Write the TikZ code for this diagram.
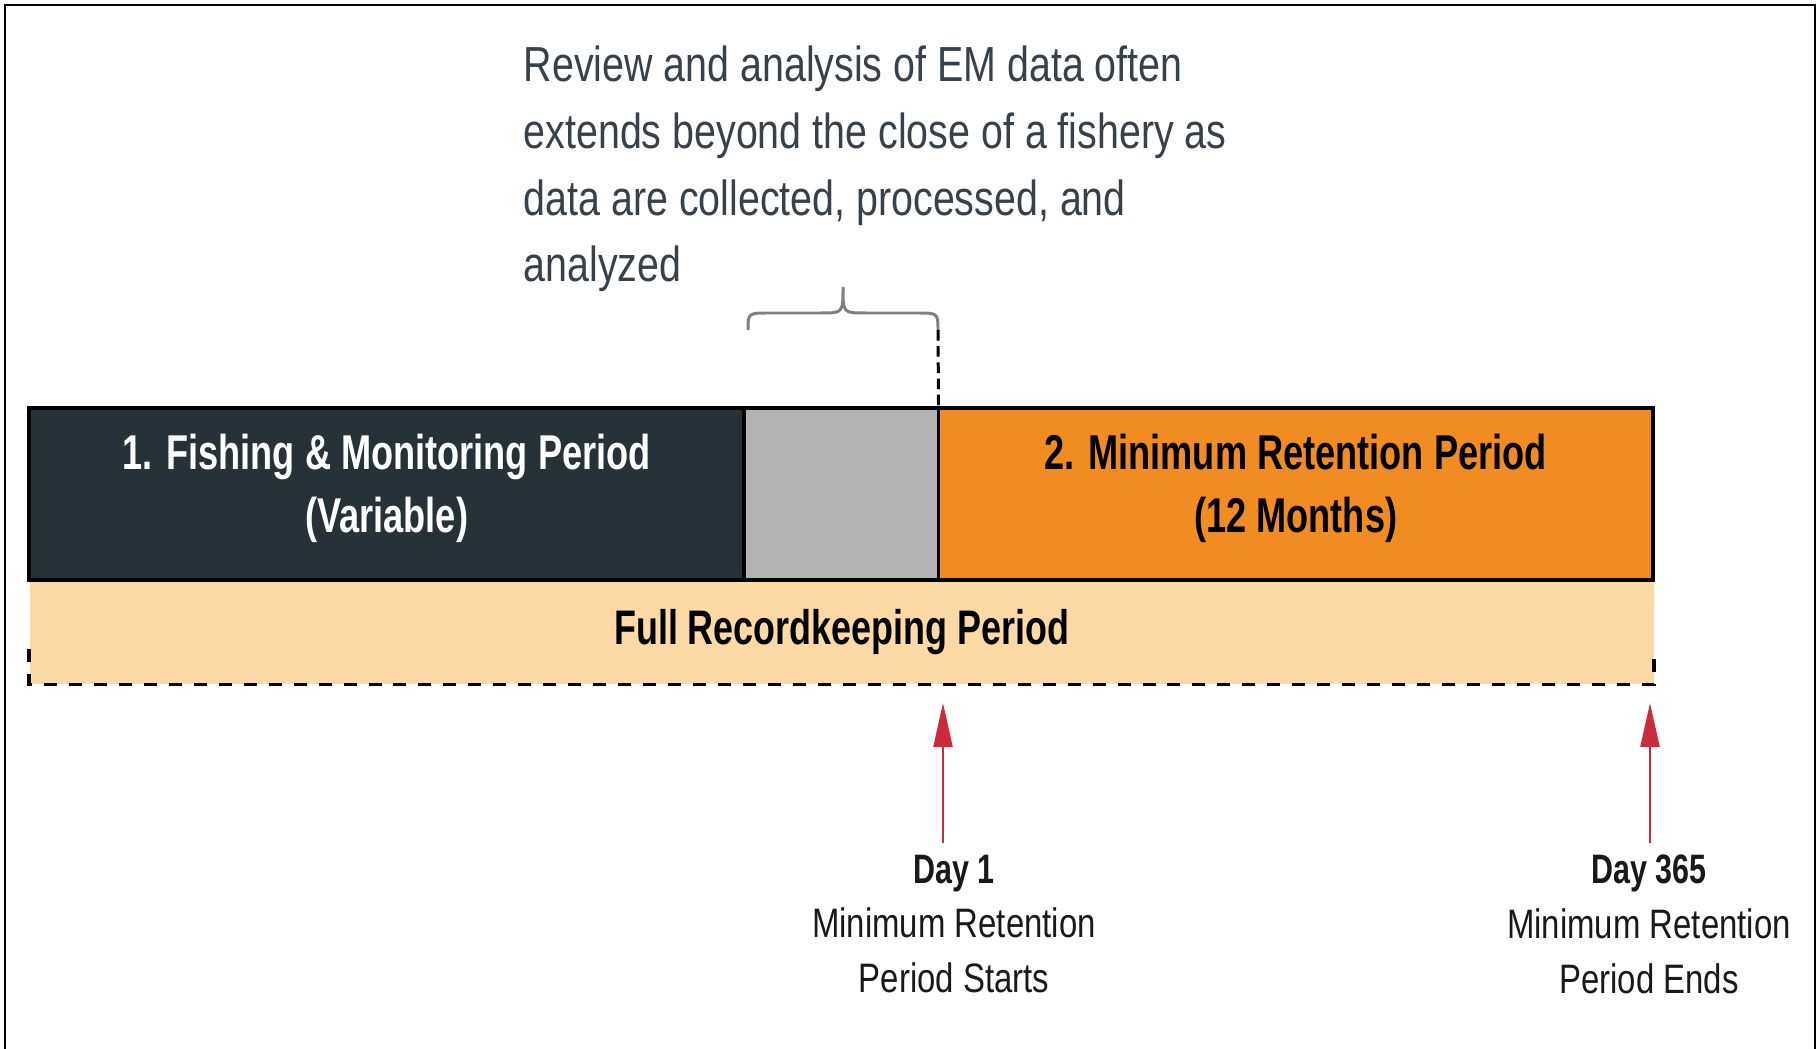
\documentclass[tikz,border=0pt]{standalone}
\usepackage{fontspec}
\setmainfont{Liberation Sans}[FakeStretch=0.8,BoldFeatures={FakeStretch=0.74}]
\usetikzlibrary{arrows.meta,positioning}
\definecolor{slate}{HTML}{263238}
\definecolor{pending}{HTML}{B3B3B3}
\definecolor{retain}{HTML}{F08C22}
\definecolor{peach}{HTML}{FDD9A6}
\definecolor{marker}{HTML}{CC2A3D}
\definecolor{note}{HTML}{37414A}
\definecolor{bracegray}{HTML}{808080}

\begin{document}
\begin{tikzpicture}[x=0.01cm,y=-0.01cm,
  period/.style={draw=black,line width=1.1pt,inner sep=0,outer sep=0,minimum height=1.72cm,
    align=center,font=\fontsize{13.9}{18}\selectfont\bfseries},
  rim/.style={line width=1.1pt,dash pattern=on 3.7pt off 3.4pt},
  flag/.style={draw=marker,line width=0.7pt,-{Triangle[length=12.5pt,width=5.4pt]}},
  daylabel/.style={anchor=north,inner sep=0,align=center,text=black!90,
    font=\fontsize{11.7}{15.6}\selectfont}]
\useasboundingbox (0,0) rectangle (1820,1049);
\draw[line width=0.7pt] (5,1049) -- (5,5) -- (1815,5) -- (1815,1049);
\node[fill=peach,inner sep=0,minimum width=16.23cm,minimum height=1.03cm,anchor=north west,
  font=\fontsize{13.8}{16}\selectfont\bfseries] (record) at (29,580) {Full Recordkeeping Period};
\draw[rim] ([yshift=0.35cm]record.south west) -- (record.south west)
  -- (record.south east) -- ([yshift=0.35cm]record.south east);
\node[period,fill=slate,text=white,minimum width=7.15cm,anchor=north west] (fishing) at (29,408)
  {1. Fishing \& Monitoring Period\\(Variable)\rule[-6pt]{0pt}{0pt}};
\node[period,fill=pending,minimum width=1.94cm,anchor=west] (review) at (fishing.east) {};
\node[period,fill=retain,text=black,minimum width=7.14cm,anchor=west] (retention) at (review.east)
  {2. Minimum Retention Period\\(12 Months)\rule[-6pt]{0pt}{0pt}};
\node[anchor=north west,inner sep=0,align=left,text=note,font=\fontsize{14}{19}\selectfont] (remark) at (523,45)
  {Review and analysis of EM data often\\extends beyond the close of a fishery as\\data are collected, processed, and\\analyzed};
\coordinate (braceR) at (938,330);
\draw[bracegray,line width=0.85pt] (748,330) .. controls (748,313) .. (770,313) -- (821,313)
  .. controls (843,313) .. (843,287) .. controls (843,313) .. (865,313) -- (916,313)
  .. controls (938,313) .. (braceR);
\draw[line width=0.85pt,dash pattern=on 3pt off 1.6pt] (braceR) -- (review.north east);
\node[daylabel] (start) at (954,854) {\textbf{Day 1}\\Minimum Retention\\Period Starts};
\node[daylabel] (finish) at (1649,854) {\textbf{Day 365}\\Minimum Retention\\Period Ends};
\coordinate (startfoot) at (943,843);
\coordinate (starttip) at (943,703);
\coordinate (finishfoot) at (1650,843);
\coordinate (finishtip) at (1650,703);
\draw[flag] (startfoot) -- (starttip);
\draw[flag] (finishfoot) -- (finishtip);
\end{tikzpicture}
\end{document}
